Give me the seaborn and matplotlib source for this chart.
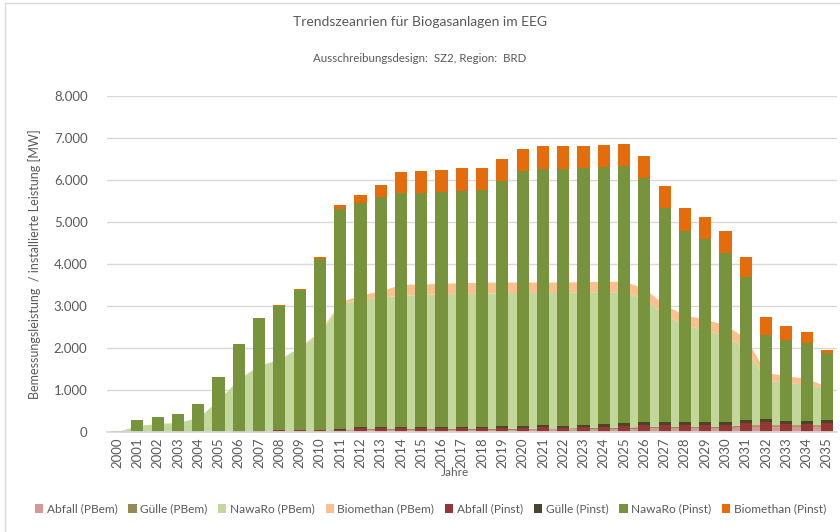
import numpy as np
import pandas as pd
import seaborn as sns
import matplotlib.pyplot as plt
from matplotlib.patches import Patch
from matplotlib.lines import Line2D

# Years (categories)
years = [str(y) for y in range(2000, 2036)]

# Bemessungsleistung (areas), MW
abfall_pbem = [0, 0, 0, 0, 0, 0, 20, 25, 25, 25, 25, 40, 55, 60, 60, 60, 60, 60,
               60, 60, 60, 70, 70, 70, 70, 70, 95, 95, 95, 95, 95, 135, 135, 135, 135, 135]
guelle_pbem = [0, 0, 0, 0, 0, 0, 5, 5, 5, 5, 5, 25, 25, 25, 25, 25, 25, 25,
               25, 25, 25, 25, 25, 40, 40, 40, 40, 40, 40, 40, 40, 40, 40, 40, 40, 40]
nawaro_pbem = [10, 150, 205, 225, 350, 760, 1245, 1560, 1700, 2000, 2320, 2995, 3070, 3125,
               3175, 3185, 3205, 3215, 3215, 3235, 3235, 3225, 3225, 3230, 3230, 3230,
               3045, 2655, 2415, 2305, 2155, 1815, 1065, 1000, 965, 865]
biomethan_pbem = [0, 0, 0, 0, 0, 0, 0, 0, 0, 0, 50, 40, 110, 155, 255, 255, 250, 255,
                  265, 250, 250, 250, 250, 240, 250, 250, 240, 235, 235, 245, 260, 240,
                  180, 160, 140, 40]

# installierte Leistung (bars), MW
abfall_pinst = [0, 0, 0, 0, 0, 0, 30, 35, 50, 50, 55, 55, 85, 85, 85, 85, 85, 85,
                85, 95, 95, 120, 105, 120, 125, 150, 165, 165, 165, 165, 175, 215,
                230, 200, 200, 205]
guelle_pinst = [0, 0, 0, 0, 0, 0, 0, 0, 0, 0, 0, 10, 30, 30, 30, 30, 30, 30,
                30, 40, 40, 45, 45, 45, 55, 55, 63, 63, 63, 63, 55, 63, 70, 70, 70, 70]
nawaro_pinst = [30, 280, 360, 420, 655, 1320, 2070, 2685, 2960, 3340, 4055, 5235, 5330,
                5475, 5570, 5585, 5600, 5630, 5645, 5840, 6080, 6095, 6110, 6115, 6120,
                6125, 5822, 5107, 4557, 4362, 4040, 3412, 2010, 1930, 1850, 1600]
biomethan_pinst = [0, 0, 0, 0, 0, 0, 0, 0, 10, 20, 60, 100, 205, 300, 515, 515, 530, 535,
                   535, 535, 535, 540, 540, 540, 540, 525, 530, 525, 540, 530, 515, 475,
                   430, 325, 260, 85]

y_ticks = [0, 1000, 2000, 3000, 4000, 5000, 6000, 7000, 8000]
y_tick_labels = ['0', '1.000', '2.000', '3.000', '4.000', '5.000', '6.000', '7.000', '8.000']

labels = ['Abfall (PBem)', 'Gülle (PBem)', 'NawaRo (PBem)', 'Biomethan (PBem)',
          'Abfall (Pinst)', 'Gülle (Pinst)', 'NawaRo (Pinst)', 'Biomethan (Pinst)']
colors = ['#D99694', '#948A54', '#C3D69B', '#FAC090',
          '#953735', '#4A452A', '#77933C', '#E46C0A']

sns.set_theme(style='white')
plt.rcParams['font.family'] = ['Lato', 'DejaVu Sans']
text_col = '#595959'

df = pd.DataFrame({
    'Jahr': years,
    'abf': abfall_pinst, 'gul': guelle_pinst, 'naw': nawaro_pinst, 'bio': biomethan_pinst,
})
df['c1'] = df['abf']
df['c2'] = df['c1'] + df['gul']
df['c3'] = df['c2'] + df['naw']
df['c4'] = df['c3'] + df['bio']

fig = plt.figure(figsize=(8.4, 5.32), dpi=100)
ax = fig.add_axes([107 / 840, 1 - 432 / 532, 730 / 840, 336 / 532])

# stacked areas (Bemessungsleistung)
x = np.arange(len(years))
ax.stackplot(x, abfall_pbem, guelle_pbem, nawaro_pbem, biomethan_pbem,
             colors=colors[:4], linewidth=0, zorder=1)

# stacked bars (installierte Leistung), tallest first
for col, c in zip(['c4', 'c3', 'c2', 'c1'], [colors[7], colors[6], colors[5], colors[4]]):
    sns.barplot(data=df, x='Jahr', y=col, color=c, saturation=1, width=0.6,
                errorbar=None, linewidth=0, zorder=2, ax=ax)

ax.set_xlim(-0.5, len(years) - 0.5)
ax.set_ylim(0, 8000)
ax.set_yticks(y_ticks)
ax.set_yticklabels(y_tick_labels)
ax.yaxis.grid(True, color='#D9D9D9', linewidth=1)
ax.set_axisbelow(True)
for s in ['top', 'right', 'left']:
    ax.spines[s].set_visible(False)
ax.spines['bottom'].set_color('#D9D9D9')
ax.tick_params(axis='y', length=0, labelsize=9.5, labelcolor=text_col, pad=14)
ax.tick_params(axis='x', length=0, labelsize=9.5, labelcolor=text_col, rotation=90, pad=4)

ax.set_xlabel('')
ax.set_ylabel('Bemessungsleistung  / installierte Leistung [MW]', fontsize=9,
              color=text_col, labelpad=9)
fig.text(0.5 + 35 / 840, 1 - 473 / 532, 'Jahre', ha='center', va='center',
         fontsize=8.5, color=text_col)

fig.text(0.5, 1 - 22 / 532, 'Trendszeanrien für Biogasanlagen im EEG',
         ha='center', va='center', fontsize=10, color=text_col)
fig.text(0.5, 1 - 59 / 532, 'Ausschreibungsdesign:  SZ2, Region:  BRD',
         ha='center', va='center', fontsize=8.3, color=text_col)

handles = [Patch(facecolor=c, edgecolor='none', label=l) for c, l in zip(colors, labels)]
fig.legend(handles=handles, loc='center', bbox_to_anchor=(0.5125, 1 - 509 / 532),
           ncol=8, frameon=False, fontsize=8.6, handlelength=0.7, handleheight=0.7,
           handletextpad=0.3, columnspacing=0.9, labelcolor=text_col)

# chart area border (top and left edge only)
fig.add_artist(Line2D([5 / 840, 1.0], [1 - 3 / 532, 1 - 3 / 532],
                      transform=fig.transFigure, color='#D9D9D9', linewidth=1))
fig.add_artist(Line2D([5 / 840, 5 / 840], [0.0, 1 - 3 / 532],
                      transform=fig.transFigure, color='#D9D9D9', linewidth=1))

fig.savefig('out.png', dpi=100)
